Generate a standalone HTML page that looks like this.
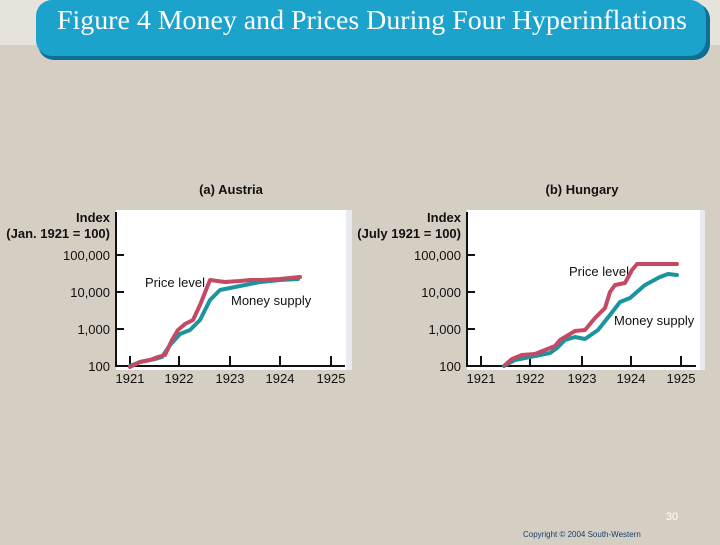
<!DOCTYPE html>
<html><head><style>
body{margin:0;width:720px;height:540px;background:#d5cfc3;overflow:hidden;font-family:"Liberation Sans",sans-serif}
</style></head><body>
<svg width="720" height="540" xmlns="http://www.w3.org/2000/svg">
<rect x="0" y="0" width="720" height="45" fill="#e6e3dd"/>
<rect x="38" y="3" width="672" height="57" rx="16" fill="#0d6f91"/>
<rect x="36" y="0" width="670" height="56" rx="16" fill="#1ba3cc"/>
<text x="372" y="29" text-anchor="middle" font-family="Liberation Serif,serif" font-size="27" textLength="630" lengthAdjust="spacingAndGlyphs" fill="#fff">Figure 4 Money and Prices During Four Hyperinflations</text>

<g font-size="13" font-weight="bold" fill="#111">
<text x="231" y="194" text-anchor="middle">(a) Austria</text>
<text x="582" y="194" text-anchor="middle">(b) Hungary</text>
<text x="110" y="222" text-anchor="end">Index</text>
<text x="110" y="238" text-anchor="end">(Jan. 1921 = 100)</text>
<text x="461" y="222" text-anchor="end">Index</text>
<text x="461" y="238" text-anchor="end">(July 1921 = 100)</text>
</g>

<rect x="116" y="210" width="236" height="160" fill="#fff"/>
<rect x="346" y="210" width="6" height="160" fill="#e8eaf0"/>
<rect x="467" y="210" width="238" height="160" fill="#fff"/>
<rect x="700" y="210" width="5" height="160" fill="#e8eaf0"/>

<g stroke="#111" stroke-width="2" fill="none">
<path d="M116,212V366H345"/>
<path d="M116,255h8M116,292h8M116,329h8"/>
<path d="M130,366v-10M179,366v-10M230,366v-10M280,366v-10M331,366v-10"/>
<path d="M467,212V366H696"/>
<path d="M467,255h8M467,292h8M467,329h8"/>
<path d="M481,366v-10M530,366v-10M582,366v-10M631,366v-10M681,366v-10"/>
</g>
<g font-size="13" fill="#111">
<text x="110" y="260" text-anchor="end">100,000</text>
<text x="110" y="297" text-anchor="end">10,000</text>
<text x="110" y="334" text-anchor="end">1,000</text>
<text x="110" y="371" text-anchor="end">100</text>
<text x="461" y="260" text-anchor="end">100,000</text>
<text x="461" y="297" text-anchor="end">10,000</text>
<text x="461" y="334" text-anchor="end">1,000</text>
<text x="461" y="371" text-anchor="end">100</text>
<text x="130" y="383" text-anchor="middle">1921</text>
<text x="179" y="383" text-anchor="middle">1922</text>
<text x="230" y="383" text-anchor="middle">1923</text>
<text x="280" y="383" text-anchor="middle">1924</text>
<text x="331" y="383" text-anchor="middle">1925</text>
<text x="481" y="383" text-anchor="middle">1921</text>
<text x="530" y="383" text-anchor="middle">1922</text>
<text x="582" y="383" text-anchor="middle">1923</text>
<text x="631" y="383" text-anchor="middle">1924</text>
<text x="681" y="383" text-anchor="middle">1925</text>
<text x="145" y="287">Price level</text>
<text x="231" y="305">Money supply</text>
<text x="569" y="276">Price level</text>
<text x="614" y="325">Money supply</text>
</g>

<g fill="none" stroke-width="4" stroke-linejoin="round" stroke-linecap="round">
<polyline stroke="#1a949f" points="130,366 140,362 155,359 162,357 170,345 180,334 190,330 200,320 210,300 220,290 230,288 245,285 260,282 280,280 298,279"/>
<polyline stroke="#c44a64" points="130,367 140,362 150,360 158,357 165,355 172,340 178,330 185,324 193,320 200,305 210,280 225,282 240,281 250,280 262,280 280,279 300,277"/>
<polyline stroke="#1a949f" points="504,366 515,360 530,357 550,353 557,348 565,340 575,337 585,339 598,330 610,315 620,302 630,298 645,285 660,277 668,274 677,275"/>
<polyline stroke="#c44a64" points="505,365 512,359 522,355 535,354 545,350 555,346 560,340 570,334 575,331 585,330 595,318 605,308 610,292 615,285 625,283 632,270 637,264 677,264"/>
</g>

<text x="672" y="520" text-anchor="middle" font-size="11" fill="#fff">30</text>
<text x="523" y="537" font-size="8" fill="#1a3f6e">Copyright © 2004  South-Western</text>
</svg>
</body></html>
